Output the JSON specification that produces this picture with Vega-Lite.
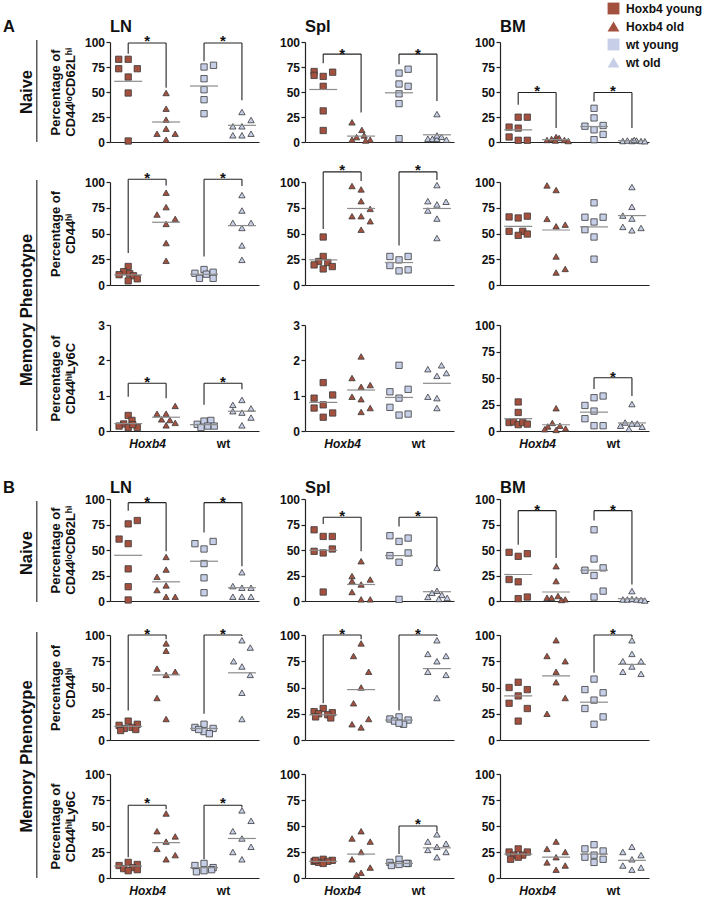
{
"$schema":"https://vega.github.io/schema/vega-lite/v6.json",
"padding":{"left":3,"top":2,"right":2,"bottom":2},
"spacing":30,
"datasets":{"d":[
{"k":"A1LN","m":"p","g":"Hoxb4 young","x":0.75,"y":82.7},{"k":"A1LN","m":"p","g":"Hoxb4 young","x":1,"y":82.7},{"k":"A1LN","m":"p","g":"Hoxb4 young","x":0.75,"y":73.3},{"k":"A1LN","m":"p","g":"Hoxb4 young","x":1.24,"y":73.3},{"k":"A1LN","m":"p","g":"Hoxb4 young","x":1,"y":65},{"k":"A1LN","m":"p","g":"Hoxb4 young","x":1,"y":49},{"k":"A1LN","m":"p","g":"Hoxb4 young","x":1,"y":1},
{"k":"A1LN","m":"p","g":"Hoxb4 old","x":2,"y":49},{"k":"A1LN","m":"p","g":"Hoxb4 old","x":2,"y":33.3},{"k":"A1LN","m":"p","g":"Hoxb4 old","x":2,"y":22.3},{"k":"A1LN","m":"p","g":"Hoxb4 old","x":1.76,"y":8.3},{"k":"A1LN","m":"p","g":"Hoxb4 old","x":2,"y":13.3},{"k":"A1LN","m":"p","g":"Hoxb4 old","x":2.24,"y":8.3},{"k":"A1LN","m":"p","g":"Hoxb4 old","x":2,"y":2.3},
{"k":"A1LN","m":"p","g":"wt young","x":3,"y":75},{"k":"A1LN","m":"p","g":"wt young","x":3.25,"y":76.7},{"k":"A1LN","m":"p","g":"wt young","x":3,"y":63.3},{"k":"A1LN","m":"p","g":"wt young","x":3,"y":52.3},{"k":"A1LN","m":"p","g":"wt young","x":3,"y":42.3},{"k":"A1LN","m":"p","g":"wt young","x":3,"y":28.3},
{"k":"A1LN","m":"p","g":"wt old","x":4,"y":30},{"k":"A1LN","m":"p","g":"wt old","x":3.76,"y":15.7},{"k":"A1LN","m":"p","g":"wt old","x":4,"y":15.7},{"k":"A1LN","m":"p","g":"wt old","x":4.24,"y":22},{"k":"A1LN","m":"p","g":"wt old","x":3.76,"y":6.7},{"k":"A1LN","m":"p","g":"wt old","x":4,"y":6.7},{"k":"A1LN","m":"p","g":"wt old","x":4.24,"y":8.3},
{"k":"A1LN","m":"l","x":1,"y":60.7},{"k":"A1LN","m":"l","x":2,"y":20},{"k":"A1LN","m":"l","x":3,"y":56},{"k":"A1LN","m":"l","x":4,"y":16.7},
{"k":"A1LN","m":"s","x":1,"x2":2,"y":99,"y2":99},{"k":"A1LN","m":"s","x":1,"x2":1,"y":88.3,"y2":99},{"k":"A1LN","m":"s","x":2,"x2":2,"y":54.3,"y2":99},{"k":"A1LN","m":"s","x":3,"x2":4,"y":99,"y2":99},{"k":"A1LN","m":"s","x":3,"x2":3,"y":80.7,"y2":99},{"k":"A1LN","m":"s","x":4,"x2":4,"y":41.7,"y2":99},
{"k":"A1LN","m":"t","x":1.5,"y":105},{"k":"A1LN","m":"t","x":3.5,"y":105},
{"k":"A1LN","m":"pl","x":-2.3,"y":110,"t":"A"},{"k":"A1LN","m":"pl","x":0.52,"y":110,"t":"LN"},
{"k":"A1LN","m":"lt","x":-1.67,"y":50,"t":"Naive"},{"k":"A1LN","m":"s","x":-1.41,"x2":-1.41,"y":0,"y2":102},

{"k":"A1Spl","m":"p","g":"Hoxb4 young","x":0.76,"y":70.5},{"k":"A1Spl","m":"p","g":"Hoxb4 young","x":0.76,"y":66.6},{"k":"A1Spl","m":"p","g":"Hoxb4 young","x":1,"y":65.6},{"k":"A1Spl","m":"p","g":"Hoxb4 young","x":1.25,"y":69.8},{"k":"A1Spl","m":"p","g":"Hoxb4 young","x":1,"y":55.7},{"k":"A1Spl","m":"p","g":"Hoxb4 young","x":1,"y":31.1},{"k":"A1Spl","m":"p","g":"Hoxb4 young","x":1,"y":11.5},
{"k":"A1Spl","m":"p","g":"Hoxb4 old","x":1.76,"y":19.7},{"k":"A1Spl","m":"p","g":"Hoxb4 old","x":2.02,"y":12.1},{"k":"A1Spl","m":"p","g":"Hoxb4 old","x":1.88,"y":4.9},{"k":"A1Spl","m":"p","g":"Hoxb4 old","x":2.08,"y":6.6},{"k":"A1Spl","m":"p","g":"Hoxb4 old","x":2.24,"y":2.3},{"k":"A1Spl","m":"p","g":"Hoxb4 old","x":1.76,"y":2.3},{"k":"A1Spl","m":"p","g":"Hoxb4 old","x":2.12,"y":1.5},
{"k":"A1Spl","m":"p","g":"wt young","x":3,"y":68.9},{"k":"A1Spl","m":"p","g":"wt young","x":3.24,"y":72.8},{"k":"A1Spl","m":"p","g":"wt young","x":3,"y":58},{"k":"A1Spl","m":"p","g":"wt young","x":3.24,"y":55.7},{"k":"A1Spl","m":"p","g":"wt young","x":3,"y":48.2},{"k":"A1Spl","m":"p","g":"wt young","x":3,"y":38.4},{"k":"A1Spl","m":"p","g":"wt young","x":3,"y":3.3},
{"k":"A1Spl","m":"p","g":"wt old","x":4,"y":27.9},{"k":"A1Spl","m":"p","g":"wt old","x":3.76,"y":3.3},{"k":"A1Spl","m":"p","g":"wt old","x":3.88,"y":3.3},{"k":"A1Spl","m":"p","g":"wt old","x":4,"y":3.3},{"k":"A1Spl","m":"p","g":"wt old","x":4,"y":6.6},{"k":"A1Spl","m":"p","g":"wt old","x":4.12,"y":5.2},{"k":"A1Spl","m":"p","g":"wt old","x":4.25,"y":2.3},
{"k":"A1Spl","m":"l","x":1,"y":52.5},{"k":"A1Spl","m":"l","x":2,"y":5.9},{"k":"A1Spl","m":"l","x":3,"y":49.2},{"k":"A1Spl","m":"l","x":4,"y":7.2},
{"k":"A1Spl","m":"s","x":1,"x2":2,"y":87.9,"y2":87.9},{"k":"A1Spl","m":"s","x":1,"x2":1,"y":78.7,"y2":87.9},{"k":"A1Spl","m":"s","x":2,"x2":2,"y":29.5,"y2":87.9},{"k":"A1Spl","m":"s","x":3,"x2":4,"y":87.9,"y2":87.9},{"k":"A1Spl","m":"s","x":3,"x2":3,"y":77.7,"y2":87.9},{"k":"A1Spl","m":"s","x":4,"x2":4,"y":41,"y2":87.9},
{"k":"A1Spl","m":"t","x":1.5,"y":92.5},{"k":"A1Spl","m":"t","x":3.5,"y":92.5},
{"k":"A1Spl","m":"pl","x":0.52,"y":110,"t":"Spl"},

{"k":"A1BM","m":"p","g":"Hoxb4 young","x":0.76,"y":14.9},{"k":"A1BM","m":"p","g":"Hoxb4 young","x":1,"y":13.9},{"k":"A1BM","m":"p","g":"Hoxb4 young","x":1,"y":24.8},{"k":"A1BM","m":"p","g":"Hoxb4 young","x":1.24,"y":24.8},{"k":"A1BM","m":"p","g":"Hoxb4 young","x":0.76,"y":5},{"k":"A1BM","m":"p","g":"Hoxb4 young","x":1,"y":1.7},{"k":"A1BM","m":"p","g":"Hoxb4 young","x":1.24,"y":1.7},
{"k":"A1BM","m":"p","g":"Hoxb4 old","x":1.76,"y":2},{"k":"A1BM","m":"p","g":"Hoxb4 old","x":1.88,"y":3},{"k":"A1BM","m":"p","g":"Hoxb4 old","x":2,"y":5},{"k":"A1BM","m":"p","g":"Hoxb4 old","x":2.08,"y":4},{"k":"A1BM","m":"p","g":"Hoxb4 old","x":2.22,"y":2},{"k":"A1BM","m":"p","g":"Hoxb4 old","x":2.32,"y":1},{"k":"A1BM","m":"p","g":"Hoxb4 old","x":1.98,"y":1.5},
{"k":"A1BM","m":"p","g":"wt young","x":3,"y":33.7},{"k":"A1BM","m":"p","g":"wt young","x":3,"y":24.1},{"k":"A1BM","m":"p","g":"wt young","x":2.76,"y":15.8},{"k":"A1BM","m":"p","g":"wt young","x":3.24,"y":16.5},{"k":"A1BM","m":"p","g":"wt young","x":3,"y":12.2},{"k":"A1BM","m":"p","g":"wt young","x":3.24,"y":7.6},{"k":"A1BM","m":"p","g":"wt young","x":3,"y":2.3},
{"k":"A1BM","m":"p","g":"wt old","x":3.76,"y":1},{"k":"A1BM","m":"p","g":"wt old","x":3.88,"y":1.5},{"k":"A1BM","m":"p","g":"wt old","x":4,"y":1},{"k":"A1BM","m":"p","g":"wt old","x":4.12,"y":1.5},{"k":"A1BM","m":"p","g":"wt old","x":4.24,"y":1},{"k":"A1BM","m":"p","g":"wt old","x":4.34,"y":0.8},{"k":"A1BM","m":"p","g":"wt old","x":4.06,"y":2},
{"k":"A1BM","m":"l","x":1,"y":12.2},{"k":"A1BM","m":"l","x":2,"y":2.3},{"k":"A1BM","m":"l","x":3,"y":15.5},{"k":"A1BM","m":"l","x":4,"y":1.3},
{"k":"A1BM","m":"s","x":1,"x2":2,"y":49.5,"y2":49.5},{"k":"A1BM","m":"s","x":1,"x2":1,"y":37.3,"y2":49.5},{"k":"A1BM","m":"s","x":2,"x2":2,"y":13.9,"y2":49.5},{"k":"A1BM","m":"s","x":3,"x2":4,"y":49.5,"y2":49.5},{"k":"A1BM","m":"s","x":3,"x2":3,"y":40.6,"y2":49.5},{"k":"A1BM","m":"s","x":4,"x2":4,"y":13.9,"y2":49.5},
{"k":"A1BM","m":"t","x":1.5,"y":55},{"k":"A1BM","m":"t","x":3.5,"y":55},
{"k":"A1BM","m":"pl","x":0.52,"y":110,"t":"BM"},

{"k":"A2LN","m":"p","g":"Hoxb4 young","x":1,"y":18},{"k":"A2LN","m":"p","g":"Hoxb4 young","x":0.88,"y":13},{"k":"A2LN","m":"p","g":"Hoxb4 young","x":0.76,"y":10},{"k":"A2LN","m":"p","g":"Hoxb4 young","x":1.04,"y":11},{"k":"A2LN","m":"p","g":"Hoxb4 young","x":1.14,"y":9},{"k":"A2LN","m":"p","g":"Hoxb4 young","x":1,"y":4},{"k":"A2LN","m":"p","g":"Hoxb4 young","x":1.24,"y":6},
{"k":"A2LN","m":"p","g":"Hoxb4 old","x":2,"y":89.6},{"k":"A2LN","m":"p","g":"Hoxb4 old","x":2,"y":75.6},{"k":"A2LN","m":"p","g":"Hoxb4 old","x":1.76,"y":68.4},{"k":"A2LN","m":"p","g":"Hoxb4 old","x":2.24,"y":64.2},{"k":"A2LN","m":"p","g":"Hoxb4 old","x":2,"y":59.3},{"k":"A2LN","m":"p","g":"Hoxb4 old","x":2,"y":40.7},{"k":"A2LN","m":"p","g":"Hoxb4 old","x":2,"y":23.5},
{"k":"A2LN","m":"p","g":"wt young","x":2.76,"y":11.4},{"k":"A2LN","m":"p","g":"wt young","x":3,"y":15},{"k":"A2LN","m":"p","g":"wt young","x":3.24,"y":12.4},{"k":"A2LN","m":"p","g":"wt young","x":2.88,"y":6.5},{"k":"A2LN","m":"p","g":"wt young","x":3.24,"y":6.5},{"k":"A2LN","m":"p","g":"wt young","x":3.06,"y":10.5},
{"k":"A2LN","m":"p","g":"wt old","x":4,"y":87.3},{"k":"A2LN","m":"p","g":"wt old","x":4,"y":72.3},{"k":"A2LN","m":"p","g":"wt old","x":3.76,"y":60.3},{"k":"A2LN","m":"p","g":"wt old","x":4.24,"y":60.3},{"k":"A2LN","m":"p","g":"wt old","x":4,"y":55.4},{"k":"A2LN","m":"p","g":"wt old","x":4,"y":38.4},{"k":"A2LN","m":"p","g":"wt old","x":4,"y":24.4},
{"k":"A2LN","m":"l","x":1,"y":9.8},{"k":"A2LN","m":"l","x":2,"y":60.9},{"k":"A2LN","m":"l","x":3,"y":10.4},{"k":"A2LN","m":"l","x":4,"y":57.7},
{"k":"A2LN","m":"s","x":1,"x2":2,"y":102.6,"y2":102.6},{"k":"A2LN","m":"s","x":1,"x2":1,"y":31,"y2":102.6},{"k":"A2LN","m":"s","x":2,"x2":2,"y":96.7,"y2":102.6},{"k":"A2LN","m":"s","x":3,"x2":4,"y":102.6,"y2":102.6},{"k":"A2LN","m":"s","x":3,"x2":3,"y":27.7,"y2":102.6},{"k":"A2LN","m":"s","x":4,"x2":4,"y":96,"y2":102.6},
{"k":"A2LN","m":"t","x":1.5,"y":107.5},{"k":"A2LN","m":"t","x":3.5,"y":107.5},
{"k":"A2LN","m":"lt","x":-1.67,"y":-24.3,"t":"Memory Phenotype"},{"k":"A2LN","m":"s","x":-1.41,"x2":-1.41,"y":-141.7,"y2":101.9},

{"k":"A2Spl","m":"p","g":"Hoxb4 young","x":1,"y":46.6},{"k":"A2Spl","m":"p","g":"Hoxb4 young","x":1,"y":27.7},{"k":"A2Spl","m":"p","g":"Hoxb4 young","x":0.88,"y":22.8},{"k":"A2Spl","m":"p","g":"Hoxb4 young","x":0.76,"y":19.5},{"k":"A2Spl","m":"p","g":"Hoxb4 young","x":1.12,"y":21.8},{"k":"A2Spl","m":"p","g":"Hoxb4 young","x":1.24,"y":17.9},{"k":"A2Spl","m":"p","g":"Hoxb4 young","x":1,"y":15.6},
{"k":"A2Spl","m":"p","g":"Hoxb4 old","x":1.76,"y":96.1},{"k":"A2Spl","m":"p","g":"Hoxb4 old","x":2,"y":92.8},{"k":"A2Spl","m":"p","g":"Hoxb4 old","x":2,"y":81.4},{"k":"A2Spl","m":"p","g":"Hoxb4 old","x":2.24,"y":73.9},{"k":"A2Spl","m":"p","g":"Hoxb4 old","x":1.76,"y":66.8},{"k":"A2Spl","m":"p","g":"Hoxb4 old","x":2,"y":66.8},{"k":"A2Spl","m":"p","g":"Hoxb4 old","x":2.24,"y":61.9},{"k":"A2Spl","m":"p","g":"Hoxb4 old","x":2,"y":53.7},
{"k":"A2Spl","m":"p","g":"wt young","x":2.76,"y":27.7},{"k":"A2Spl","m":"p","g":"wt young","x":3,"y":24.4},{"k":"A2Spl","m":"p","g":"wt young","x":3.24,"y":27.7},{"k":"A2Spl","m":"p","g":"wt young","x":2.76,"y":18.9},{"k":"A2Spl","m":"p","g":"wt young","x":3,"y":13.7},{"k":"A2Spl","m":"p","g":"wt young","x":3.24,"y":14.7},
{"k":"A2Spl","m":"p","g":"wt old","x":4,"y":97},{"k":"A2Spl","m":"p","g":"wt old","x":3.76,"y":81.4},{"k":"A2Spl","m":"p","g":"wt old","x":4,"y":78.2},{"k":"A2Spl","m":"p","g":"wt old","x":4.24,"y":80.8},{"k":"A2Spl","m":"p","g":"wt old","x":3.76,"y":72.3},{"k":"A2Spl","m":"p","g":"wt old","x":4,"y":64.5},{"k":"A2Spl","m":"p","g":"wt old","x":4,"y":45.6},
{"k":"A2Spl","m":"l","x":1,"y":24.4},{"k":"A2Spl","m":"l","x":2,"y":74.3},{"k":"A2Spl","m":"l","x":3,"y":21.8},{"k":"A2Spl","m":"l","x":4,"y":74.3},
{"k":"A2Spl","m":"s","x":1,"x2":2,"y":109.8,"y2":109.8},{"k":"A2Spl","m":"s","x":1,"x2":1,"y":54.4,"y2":109.8},{"k":"A2Spl","m":"s","x":2,"x2":2,"y":101,"y2":109.8},{"k":"A2Spl","m":"s","x":3,"x2":4,"y":109.8,"y2":109.8},{"k":"A2Spl","m":"s","x":3,"x2":3,"y":38.4,"y2":109.8},{"k":"A2Spl","m":"s","x":4,"x2":4,"y":102,"y2":109.8},
{"k":"A2Spl","m":"t","x":1.5,"y":115.6},{"k":"A2Spl","m":"t","x":3.5,"y":115.6},

{"k":"A2BM","m":"p","g":"Hoxb4 young","x":0.76,"y":66.1},{"k":"A2BM","m":"p","g":"Hoxb4 young","x":1,"y":65.1},{"k":"A2BM","m":"p","g":"Hoxb4 young","x":1.24,"y":66.8},{"k":"A2BM","m":"p","g":"Hoxb4 young","x":0.76,"y":52.1},{"k":"A2BM","m":"p","g":"Hoxb4 young","x":1.12,"y":52.1},{"k":"A2BM","m":"p","g":"Hoxb4 young","x":1,"y":48.2},{"k":"A2BM","m":"p","g":"Hoxb4 young","x":1.24,"y":49.5},
{"k":"A2BM","m":"p","g":"Hoxb4 old","x":1.76,"y":96.7},{"k":"A2BM","m":"p","g":"Hoxb4 old","x":2,"y":92.2},{"k":"A2BM","m":"p","g":"Hoxb4 old","x":1.76,"y":64.2},{"k":"A2BM","m":"p","g":"Hoxb4 old","x":2,"y":57},{"k":"A2BM","m":"p","g":"Hoxb4 old","x":2.24,"y":58.6},{"k":"A2BM","m":"p","g":"Hoxb4 old","x":2,"y":27.7},{"k":"A2BM","m":"p","g":"Hoxb4 old","x":2,"y":12.1},{"k":"A2BM","m":"p","g":"Hoxb4 old","x":2.24,"y":15.6},
{"k":"A2BM","m":"p","g":"wt young","x":3,"y":79.8},{"k":"A2BM","m":"p","g":"wt young","x":2.76,"y":65.8},{"k":"A2BM","m":"p","g":"wt young","x":3.24,"y":65.8},{"k":"A2BM","m":"p","g":"wt young","x":3,"y":61.2},{"k":"A2BM","m":"p","g":"wt young","x":2.76,"y":53.7},{"k":"A2BM","m":"p","g":"wt young","x":3,"y":46.6},{"k":"A2BM","m":"p","g":"wt young","x":3,"y":25.1},
{"k":"A2BM","m":"p","g":"wt old","x":4,"y":95.1},{"k":"A2BM","m":"p","g":"wt old","x":4,"y":75.9},{"k":"A2BM","m":"p","g":"wt old","x":3.76,"y":67.4},{"k":"A2BM","m":"p","g":"wt old","x":4,"y":64.5},{"k":"A2BM","m":"p","g":"wt old","x":3.76,"y":56.4},{"k":"A2BM","m":"p","g":"wt old","x":4.24,"y":55.4},{"k":"A2BM","m":"p","g":"wt old","x":4,"y":53.1},
{"k":"A2BM","m":"l","x":1,"y":57},{"k":"A2BM","m":"l","x":2,"y":53.4},{"k":"A2BM","m":"l","x":3,"y":56.4},{"k":"A2BM","m":"l","x":4,"y":67.4},

{"k":"A3LN","m":"p","g":"Hoxb4 young","x":1,"y":0.44},{"k":"A3LN","m":"p","g":"Hoxb4 young","x":1.1,"y":0.3},{"k":"A3LN","m":"p","g":"Hoxb4 young","x":0.88,"y":0.2},{"k":"A3LN","m":"p","g":"Hoxb4 young","x":0.76,"y":0.14},{"k":"A3LN","m":"p","g":"Hoxb4 young","x":1,"y":0.1},{"k":"A3LN","m":"p","g":"Hoxb4 young","x":1.24,"y":0.1},{"k":"A3LN","m":"p","g":"Hoxb4 young","x":1.12,"y":0.18},
{"k":"A3LN","m":"p","g":"Hoxb4 old","x":2.24,"y":0.71},{"k":"A3LN","m":"p","g":"Hoxb4 old","x":1.76,"y":0.49},{"k":"A3LN","m":"p","g":"Hoxb4 old","x":2,"y":0.49},{"k":"A3LN","m":"p","g":"Hoxb4 old","x":1.88,"y":0.33},{"k":"A3LN","m":"p","g":"Hoxb4 old","x":2.1,"y":0.31},{"k":"A3LN","m":"p","g":"Hoxb4 old","x":2,"y":0.16},{"k":"A3LN","m":"p","g":"Hoxb4 old","x":2.24,"y":0.23},
{"k":"A3LN","m":"p","g":"wt young","x":3,"y":0.28},{"k":"A3LN","m":"p","g":"wt young","x":3.18,"y":0.3},{"k":"A3LN","m":"p","g":"wt young","x":2.82,"y":0.19},{"k":"A3LN","m":"p","g":"wt young","x":3.1,"y":0.14},{"k":"A3LN","m":"p","g":"wt young","x":3.27,"y":0.14},{"k":"A3LN","m":"p","g":"wt young","x":2.92,"y":0.1},
{"k":"A3LN","m":"p","g":"wt old","x":4,"y":0.88},{"k":"A3LN","m":"p","g":"wt old","x":3.76,"y":0.74},{"k":"A3LN","m":"p","g":"wt old","x":3.76,"y":0.56},{"k":"A3LN","m":"p","g":"wt old","x":4,"y":0.52},{"k":"A3LN","m":"p","g":"wt old","x":4.24,"y":0.64},{"k":"A3LN","m":"p","g":"wt old","x":4.24,"y":0.38},{"k":"A3LN","m":"p","g":"wt old","x":4,"y":0.16},
{"k":"A3LN","m":"l","x":1,"y":0.21},{"k":"A3LN","m":"l","x":2,"y":0.39},{"k":"A3LN","m":"l","x":3,"y":0.18},{"k":"A3LN","m":"l","x":4,"y":0.56},
{"k":"A3LN","m":"s","x":1,"x2":2,"y":1.35,"y2":1.35},{"k":"A3LN","m":"s","x":1,"x2":1,"y":0.97,"y2":1.35},{"k":"A3LN","m":"s","x":2,"x2":2,"y":0.93,"y2":1.35},{"k":"A3LN","m":"s","x":3,"x2":4,"y":1.35,"y2":1.35},{"k":"A3LN","m":"s","x":3,"x2":3,"y":0.74,"y2":1.35},{"k":"A3LN","m":"s","x":4,"x2":4,"y":1.18,"y2":1.35},
{"k":"A3LN","m":"t","x":1.5,"y":1.49},{"k":"A3LN","m":"t","x":3.5,"y":1.49},

{"k":"A3Spl","m":"p","g":"Hoxb4 young","x":1,"y":1.37},{"k":"A3Spl","m":"p","g":"Hoxb4 young","x":0.76,"y":0.93},{"k":"A3Spl","m":"p","g":"Hoxb4 young","x":1.25,"y":1.02},{"k":"A3Spl","m":"p","g":"Hoxb4 young","x":0.76,"y":0.65},{"k":"A3Spl","m":"p","g":"Hoxb4 young","x":1,"y":0.74},{"k":"A3Spl","m":"p","g":"Hoxb4 young","x":1.25,"y":0.51},{"k":"A3Spl","m":"p","g":"Hoxb4 young","x":1,"y":0.39},
{"k":"A3Spl","m":"p","g":"Hoxb4 old","x":2,"y":2.11},{"k":"A3Spl","m":"p","g":"Hoxb4 old","x":1.76,"y":1.5},{"k":"A3Spl","m":"p","g":"Hoxb4 old","x":2,"y":1.25},{"k":"A3Spl","m":"p","g":"Hoxb4 old","x":2.24,"y":1.3},{"k":"A3Spl","m":"p","g":"Hoxb4 old","x":1.76,"y":0.97},{"k":"A3Spl","m":"p","g":"Hoxb4 old","x":2,"y":0.9},{"k":"A3Spl","m":"p","g":"Hoxb4 old","x":2,"y":0.54},{"k":"A3Spl","m":"p","g":"Hoxb4 old","x":2.24,"y":0.65},
{"k":"A3Spl","m":"p","g":"wt young","x":3,"y":1.86},{"k":"A3Spl","m":"p","g":"wt young","x":2.76,"y":1.11},{"k":"A3Spl","m":"p","g":"wt young","x":3.24,"y":1.18},{"k":"A3Spl","m":"p","g":"wt young","x":3,"y":0.93},{"k":"A3Spl","m":"p","g":"wt young","x":2.76,"y":0.67},{"k":"A3Spl","m":"p","g":"wt young","x":3,"y":0.45},{"k":"A3Spl","m":"p","g":"wt young","x":3.24,"y":0.48},
{"k":"A3Spl","m":"p","g":"wt old","x":4.12,"y":1.86},{"k":"A3Spl","m":"p","g":"wt old","x":3.76,"y":1.75},{"k":"A3Spl","m":"p","g":"wt old","x":4,"y":1.56},{"k":"A3Spl","m":"p","g":"wt old","x":4.25,"y":1.64},{"k":"A3Spl","m":"p","g":"wt old","x":3.76,"y":0.97},{"k":"A3Spl","m":"p","g":"wt old","x":4,"y":0.93},{"k":"A3Spl","m":"p","g":"wt old","x":4,"y":0.65},
{"k":"A3Spl","m":"l","x":1,"y":0.81},{"k":"A3Spl","m":"l","x":2,"y":1.16},{"k":"A3Spl","m":"l","x":3,"y":0.95},{"k":"A3Spl","m":"l","x":4,"y":1.35},

{"k":"A3BM","m":"p","g":"Hoxb4 young","x":1,"y":27.4},{"k":"A3BM","m":"p","g":"Hoxb4 young","x":1,"y":17.5},{"k":"A3BM","m":"p","g":"Hoxb4 young","x":0.76,"y":8},{"k":"A3BM","m":"p","g":"Hoxb4 young","x":0.88,"y":8.5},{"k":"A3BM","m":"p","g":"Hoxb4 young","x":1,"y":6},{"k":"A3BM","m":"p","g":"Hoxb4 young","x":1.12,"y":8},{"k":"A3BM","m":"p","g":"Hoxb4 young","x":1.24,"y":6.5},
{"k":"A3BM","m":"p","g":"Hoxb4 old","x":2,"y":21.5},{"k":"A3BM","m":"p","g":"Hoxb4 old","x":1.9,"y":7.6},{"k":"A3BM","m":"p","g":"Hoxb4 old","x":2.1,"y":5},{"k":"A3BM","m":"p","g":"Hoxb4 old","x":1.78,"y":4.3},{"k":"A3BM","m":"p","g":"Hoxb4 old","x":1.7,"y":1.7},{"k":"A3BM","m":"p","g":"Hoxb4 old","x":2.25,"y":2.3},{"k":"A3BM","m":"p","g":"Hoxb4 old","x":2,"y":1},
{"k":"A3BM","m":"p","g":"wt young","x":3.24,"y":33},{"k":"A3BM","m":"p","g":"wt young","x":3,"y":31.4},{"k":"A3BM","m":"p","g":"wt young","x":2.76,"y":24.1},{"k":"A3BM","m":"p","g":"wt young","x":3,"y":18.8},{"k":"A3BM","m":"p","g":"wt young","x":2.76,"y":11.6},{"k":"A3BM","m":"p","g":"wt young","x":3,"y":5},{"k":"A3BM","m":"p","g":"wt young","x":3.24,"y":5},
{"k":"A3BM","m":"p","g":"wt old","x":4,"y":25.4},{"k":"A3BM","m":"p","g":"wt old","x":3.82,"y":8},{"k":"A3BM","m":"p","g":"wt old","x":4,"y":7},{"k":"A3BM","m":"p","g":"wt old","x":4.14,"y":7},{"k":"A3BM","m":"p","g":"wt old","x":3.7,"y":5},{"k":"A3BM","m":"p","g":"wt old","x":4.27,"y":4},{"k":"A3BM","m":"p","g":"wt old","x":3.92,"y":2},
{"k":"A3BM","m":"l","x":1,"y":11.6},{"k":"A3BM","m":"l","x":2,"y":5.9},{"k":"A3BM","m":"l","x":3,"y":17.8},{"k":"A3BM","m":"l","x":4,"y":7.6},
{"k":"A3BM","m":"s","x":3,"x2":4,"y":50.2,"y2":50.2},{"k":"A3BM","m":"s","x":3,"x2":3,"y":39.6,"y2":50.2},{"k":"A3BM","m":"s","x":4,"x2":4,"y":33,"y2":50.2},
{"k":"A3BM","m":"t","x":3.5,"y":55},

{"k":"B1LN","m":"p","g":"Hoxb4 young","x":1,"y":75.6},{"k":"B1LN","m":"p","g":"Hoxb4 young","x":1.24,"y":78.9},{"k":"B1LN","m":"p","g":"Hoxb4 young","x":0.76,"y":60.7},{"k":"B1LN","m":"p","g":"Hoxb4 young","x":1,"y":56.2},{"k":"B1LN","m":"p","g":"Hoxb4 young","x":1,"y":31.5},{"k":"B1LN","m":"p","g":"Hoxb4 young","x":1,"y":14},{"k":"B1LN","m":"p","g":"Hoxb4 young","x":1,"y":1},
{"k":"B1LN","m":"p","g":"Hoxb4 old","x":2,"y":43.2},{"k":"B1LN","m":"p","g":"Hoxb4 old","x":2,"y":30.8},{"k":"B1LN","m":"p","g":"Hoxb4 old","x":1.76,"y":23.7},{"k":"B1LN","m":"p","g":"Hoxb4 old","x":2,"y":15.3},{"k":"B1LN","m":"p","g":"Hoxb4 old","x":1.76,"y":10.7},{"k":"B1LN","m":"p","g":"Hoxb4 old","x":2,"y":4.2},{"k":"B1LN","m":"p","g":"Hoxb4 old","x":2.24,"y":4.2},
{"k":"B1LN","m":"p","g":"wt young","x":2.76,"y":56.2},{"k":"B1LN","m":"p","g":"wt young","x":3,"y":51},{"k":"B1LN","m":"p","g":"wt young","x":3.24,"y":58.4},{"k":"B1LN","m":"p","g":"wt young","x":3,"y":36.7},{"k":"B1LN","m":"p","g":"wt young","x":3,"y":22.7},{"k":"B1LN","m":"p","g":"wt young","x":3,"y":8.1},
{"k":"B1LN","m":"p","g":"wt old","x":4,"y":28.2},{"k":"B1LN","m":"p","g":"wt old","x":3.76,"y":14.6},{"k":"B1LN","m":"p","g":"wt old","x":4,"y":13},{"k":"B1LN","m":"p","g":"wt old","x":4.24,"y":13},{"k":"B1LN","m":"p","g":"wt old","x":3.76,"y":4.2},{"k":"B1LN","m":"p","g":"wt old","x":4,"y":4.2},{"k":"B1LN","m":"p","g":"wt old","x":4.24,"y":4.2},
{"k":"B1LN","m":"l","x":1,"y":44.8},{"k":"B1LN","m":"l","x":2,"y":18.8},{"k":"B1LN","m":"l","x":3,"y":39},{"k":"B1LN","m":"l","x":4,"y":13},
{"k":"B1LN","m":"s","x":1,"x2":2,"y":96.4,"y2":96.4},{"k":"B1LN","m":"s","x":1,"x2":1,"y":88.6,"y2":96.4},{"k":"B1LN","m":"s","x":2,"x2":2,"y":48.7,"y2":96.4},{"k":"B1LN","m":"s","x":3,"x2":4,"y":96.4,"y2":96.4},{"k":"B1LN","m":"s","x":3,"x2":3,"y":67.2,"y2":96.4},{"k":"B1LN","m":"s","x":4,"x2":4,"y":34,"y2":96.4},
{"k":"B1LN","m":"t","x":1.5,"y":100.6},{"k":"B1LN","m":"t","x":3.5,"y":100.6},
{"k":"B1LN","m":"pl","x":-2.3,"y":106.3,"t":"B"},{"k":"B1LN","m":"pl","x":0.52,"y":106.3,"t":"LN"},
{"k":"B1LN","m":"lt","x":-1.67,"y":47,"t":"Naive"},{"k":"B1LN","m":"s","x":-1.41,"x2":-1.41,"y":-1,"y2":98},

{"k":"B1Spl","m":"p","g":"Hoxb4 young","x":0.76,"y":69.8},{"k":"B1Spl","m":"p","g":"Hoxb4 young","x":1,"y":63.3},{"k":"B1Spl","m":"p","g":"Hoxb4 young","x":1.24,"y":63.3},{"k":"B1Spl","m":"p","g":"Hoxb4 young","x":0.76,"y":48.7},{"k":"B1Spl","m":"p","g":"Hoxb4 young","x":1,"y":47.1},{"k":"B1Spl","m":"p","g":"Hoxb4 young","x":1.24,"y":51},{"k":"B1Spl","m":"p","g":"Hoxb4 young","x":1,"y":8.8},
{"k":"B1Spl","m":"p","g":"Hoxb4 old","x":2,"y":39},{"k":"B1Spl","m":"p","g":"Hoxb4 old","x":1.76,"y":24.4},{"k":"B1Spl","m":"p","g":"Hoxb4 old","x":1.76,"y":19.5},{"k":"B1Spl","m":"p","g":"Hoxb4 old","x":2,"y":16.2},{"k":"B1Spl","m":"p","g":"Hoxb4 old","x":2.24,"y":21.1},{"k":"B1Spl","m":"p","g":"Hoxb4 old","x":1.76,"y":8.8},{"k":"B1Spl","m":"p","g":"Hoxb4 old","x":2,"y":1.6},{"k":"B1Spl","m":"p","g":"Hoxb4 old","x":2.24,"y":1.6},
{"k":"B1Spl","m":"p","g":"wt young","x":2.76,"y":64},{"k":"B1Spl","m":"p","g":"wt young","x":3,"y":58.4},{"k":"B1Spl","m":"p","g":"wt young","x":3.24,"y":61.7},{"k":"B1Spl","m":"p","g":"wt young","x":2.76,"y":44.5},{"k":"B1Spl","m":"p","g":"wt young","x":3.24,"y":47.1},{"k":"B1Spl","m":"p","g":"wt young","x":3,"y":38},{"k":"B1Spl","m":"p","g":"wt young","x":3,"y":1.6},
{"k":"B1Spl","m":"p","g":"wt old","x":4,"y":32.5},{"k":"B1Spl","m":"p","g":"wt old","x":4,"y":10},{"k":"B1Spl","m":"p","g":"wt old","x":3.87,"y":8},{"k":"B1Spl","m":"p","g":"wt old","x":4.13,"y":6},{"k":"B1Spl","m":"p","g":"wt old","x":3.76,"y":4},{"k":"B1Spl","m":"p","g":"wt old","x":4.27,"y":3},{"k":"B1Spl","m":"p","g":"wt old","x":4.05,"y":2},
{"k":"B1Spl","m":"l","x":1,"y":49.7},{"k":"B1Spl","m":"l","x":2,"y":16.2},{"k":"B1Spl","m":"l","x":3,"y":44.5},{"k":"B1Spl","m":"l","x":4,"y":9.1},
{"k":"B1Spl","m":"s","x":1,"x2":2,"y":82.1,"y2":82.1},{"k":"B1Spl","m":"s","x":1,"x2":1,"y":75.6,"y2":82.1},{"k":"B1Spl","m":"s","x":2,"x2":2,"y":48.7,"y2":82.1},{"k":"B1Spl","m":"s","x":3,"x2":4,"y":82.1,"y2":82.1},{"k":"B1Spl","m":"s","x":3,"x2":3,"y":73,"y2":82.1},{"k":"B1Spl","m":"s","x":4,"x2":4,"y":34,"y2":82.1},
{"k":"B1Spl","m":"t","x":1.5,"y":87},{"k":"B1Spl","m":"t","x":3.5,"y":87},
{"k":"B1Spl","m":"pl","x":0.52,"y":106.3,"t":"Spl"},

{"k":"B1BM","m":"p","g":"Hoxb4 young","x":0.76,"y":47.7},{"k":"B1BM","m":"p","g":"Hoxb4 young","x":1,"y":43.8},{"k":"B1BM","m":"p","g":"Hoxb4 young","x":1.24,"y":46.4},{"k":"B1BM","m":"p","g":"Hoxb4 young","x":0.76,"y":21.1},{"k":"B1BM","m":"p","g":"Hoxb4 young","x":1,"y":18.8},{"k":"B1BM","m":"p","g":"Hoxb4 young","x":1,"y":2.3},{"k":"B1BM","m":"p","g":"Hoxb4 young","x":1.24,"y":3.9},
{"k":"B1BM","m":"p","g":"Hoxb4 old","x":2,"y":34.1},{"k":"B1BM","m":"p","g":"Hoxb4 old","x":2,"y":19.5},{"k":"B1BM","m":"p","g":"Hoxb4 old","x":1.76,"y":3.2},{"k":"B1BM","m":"p","g":"Hoxb4 old","x":1.88,"y":3.2},{"k":"B1BM","m":"p","g":"Hoxb4 old","x":2.05,"y":4.9},{"k":"B1BM","m":"p","g":"Hoxb4 old","x":2.24,"y":1.6},{"k":"B1BM","m":"p","g":"Hoxb4 old","x":2.14,"y":1},
{"k":"B1BM","m":"p","g":"wt young","x":3,"y":69.8},{"k":"B1BM","m":"p","g":"wt young","x":3,"y":41.2},{"k":"B1BM","m":"p","g":"wt young","x":2.76,"y":30.2},{"k":"B1BM","m":"p","g":"wt young","x":3.24,"y":32.5},{"k":"B1BM","m":"p","g":"wt young","x":3,"y":25},{"k":"B1BM","m":"p","g":"wt young","x":3.24,"y":9.7},{"k":"B1BM","m":"p","g":"wt young","x":3,"y":3.9},
{"k":"B1BM","m":"p","g":"wt old","x":4,"y":9.7},{"k":"B1BM","m":"p","g":"wt old","x":3.76,"y":1.5},{"k":"B1BM","m":"p","g":"wt old","x":3.88,"y":1.5},{"k":"B1BM","m":"p","g":"wt old","x":4,"y":2},{"k":"B1BM","m":"p","g":"wt old","x":4.12,"y":1.5},{"k":"B1BM","m":"p","g":"wt old","x":4.24,"y":1},{"k":"B1BM","m":"p","g":"wt old","x":4.34,"y":0.5},
{"k":"B1BM","m":"l","x":1,"y":26},{"k":"B1BM","m":"l","x":2,"y":8.8},{"k":"B1BM","m":"l","x":3,"y":30.2},{"k":"B1BM","m":"l","x":4,"y":2.3},
{"k":"B1BM","m":"s","x":1,"x2":2,"y":88.6,"y2":88.6},{"k":"B1BM","m":"s","x":1,"x2":1,"y":55.2,"y2":88.6},{"k":"B1BM","m":"s","x":2,"x2":2,"y":42.2,"y2":88.6},{"k":"B1BM","m":"s","x":3,"x2":4,"y":88.6,"y2":88.6},{"k":"B1BM","m":"s","x":3,"x2":3,"y":78.9,"y2":88.6},{"k":"B1BM","m":"s","x":4,"x2":4,"y":16.2,"y2":88.6},
{"k":"B1BM","m":"t","x":1.5,"y":93},{"k":"B1BM","m":"t","x":3.5,"y":93},
{"k":"B1BM","m":"pl","x":0.52,"y":106.3,"t":"BM"},

{"k":"B2LN","m":"p","g":"Hoxb4 young","x":1,"y":18},{"k":"B2LN","m":"p","g":"Hoxb4 young","x":0.76,"y":14},{"k":"B2LN","m":"p","g":"Hoxb4 young","x":1.24,"y":15},{"k":"B2LN","m":"p","g":"Hoxb4 young","x":0.9,"y":11},{"k":"B2LN","m":"p","g":"Hoxb4 young","x":1.1,"y":12},{"k":"B2LN","m":"p","g":"Hoxb4 young","x":0.8,"y":9},{"k":"B2LN","m":"p","g":"Hoxb4 young","x":1.2,"y":10},
{"k":"B2LN","m":"p","g":"Hoxb4 old","x":2,"y":92},{"k":"B2LN","m":"p","g":"Hoxb4 old","x":2,"y":85},{"k":"B2LN","m":"p","g":"Hoxb4 old","x":1.76,"y":68},{"k":"B2LN","m":"p","g":"Hoxb4 old","x":2.24,"y":65},{"k":"B2LN","m":"p","g":"Hoxb4 old","x":2,"y":62},{"k":"B2LN","m":"p","g":"Hoxb4 old","x":1.76,"y":40},{"k":"B2LN","m":"p","g":"Hoxb4 old","x":2,"y":20},
{"k":"B2LN","m":"p","g":"wt young","x":3,"y":15},{"k":"B2LN","m":"p","g":"wt young","x":2.76,"y":12},{"k":"B2LN","m":"p","g":"wt young","x":3.24,"y":11},{"k":"B2LN","m":"p","g":"wt young","x":3,"y":8},{"k":"B2LN","m":"p","g":"wt young","x":2.86,"y":10},{"k":"B2LN","m":"p","g":"wt young","x":3.14,"y":6},
{"k":"B2LN","m":"p","g":"wt old","x":4,"y":95},{"k":"B2LN","m":"p","g":"wt old","x":4.22,"y":88},{"k":"B2LN","m":"p","g":"wt old","x":3.78,"y":75},{"k":"B2LN","m":"p","g":"wt old","x":4,"y":70},{"k":"B2LN","m":"p","g":"wt old","x":4.22,"y":62},{"k":"B2LN","m":"p","g":"wt old","x":4,"y":45},{"k":"B2LN","m":"p","g":"wt old","x":4,"y":20},
{"k":"B2LN","m":"l","x":1,"y":13},{"k":"B2LN","m":"l","x":2,"y":62},{"k":"B2LN","m":"l","x":3,"y":11},{"k":"B2LN","m":"l","x":4,"y":64},
{"k":"B2LN","m":"s","x":1,"x2":2,"y":100,"y2":100},{"k":"B2LN","m":"s","x":1,"x2":1,"y":28,"y2":100},{"k":"B2LN","m":"s","x":2,"x2":2,"y":96,"y2":100},{"k":"B2LN","m":"s","x":3,"x2":4,"y":100,"y2":100},{"k":"B2LN","m":"s","x":3,"x2":3,"y":25,"y2":100},{"k":"B2LN","m":"s","x":4,"x2":4,"y":99,"y2":100},
{"k":"B2LN","m":"t","x":1.5,"y":104.5},{"k":"B2LN","m":"t","x":3.5,"y":104.5},
{"k":"B2LN","m":"lt","x":-1.67,"y":-15.7,"t":"Memory Phenotype"},{"k":"B2LN","m":"s","x":-1.41,"x2":-1.41,"y":-131.4,"y2":102.9},

{"k":"B2Spl","m":"p","g":"Hoxb4 young","x":1,"y":30},{"k":"B2Spl","m":"p","g":"Hoxb4 young","x":0.76,"y":27},{"k":"B2Spl","m":"p","g":"Hoxb4 young","x":1.24,"y":26},{"k":"B2Spl","m":"p","g":"Hoxb4 young","x":0.88,"y":25},{"k":"B2Spl","m":"p","g":"Hoxb4 young","x":1.12,"y":24},{"k":"B2Spl","m":"p","g":"Hoxb4 young","x":0.8,"y":22},{"k":"B2Spl","m":"p","g":"Hoxb4 young","x":1.2,"y":21},
{"k":"B2Spl","m":"p","g":"Hoxb4 old","x":2,"y":92},{"k":"B2Spl","m":"p","g":"Hoxb4 old","x":1.8,"y":80},{"k":"B2Spl","m":"p","g":"Hoxb4 old","x":2.2,"y":65},{"k":"B2Spl","m":"p","g":"Hoxb4 old","x":2,"y":50},{"k":"B2Spl","m":"p","g":"Hoxb4 old","x":1.8,"y":35},{"k":"B2Spl","m":"p","g":"Hoxb4 old","x":2.2,"y":20},{"k":"B2Spl","m":"p","g":"Hoxb4 old","x":2,"y":12},{"k":"B2Spl","m":"p","g":"Hoxb4 old","x":1.76,"y":15},
{"k":"B2Spl","m":"p","g":"wt young","x":3,"y":22},{"k":"B2Spl","m":"p","g":"wt young","x":2.76,"y":20},{"k":"B2Spl","m":"p","g":"wt young","x":3.24,"y":19},{"k":"B2Spl","m":"p","g":"wt young","x":2.88,"y":18},{"k":"B2Spl","m":"p","g":"wt young","x":3.12,"y":15},{"k":"B2Spl","m":"p","g":"wt young","x":3,"y":16},
{"k":"B2Spl","m":"p","g":"wt old","x":4,"y":95},{"k":"B2Spl","m":"p","g":"wt old","x":3.76,"y":82},{"k":"B2Spl","m":"p","g":"wt old","x":4.24,"y":80},{"k":"B2Spl","m":"p","g":"wt old","x":4,"y":75},{"k":"B2Spl","m":"p","g":"wt old","x":3.76,"y":65},{"k":"B2Spl","m":"p","g":"wt old","x":4.24,"y":62},{"k":"B2Spl","m":"p","g":"wt old","x":4,"y":40},
{"k":"B2Spl","m":"l","x":1,"y":24},{"k":"B2Spl","m":"l","x":2,"y":48},{"k":"B2Spl","m":"l","x":3,"y":19},{"k":"B2Spl","m":"l","x":4,"y":68},
{"k":"B2Spl","m":"s","x":1,"x2":2,"y":100,"y2":100},{"k":"B2Spl","m":"s","x":1,"x2":1,"y":35,"y2":100},{"k":"B2Spl","m":"s","x":2,"x2":2,"y":96,"y2":100},{"k":"B2Spl","m":"s","x":3,"x2":4,"y":100,"y2":100},{"k":"B2Spl","m":"s","x":3,"x2":3,"y":28,"y2":100},{"k":"B2Spl","m":"s","x":4,"x2":4,"y":99,"y2":100},
{"k":"B2Spl","m":"t","x":1.5,"y":104.5},{"k":"B2Spl","m":"t","x":3.5,"y":104.5},

{"k":"B2BM","m":"p","g":"Hoxb4 young","x":1,"y":55},{"k":"B2BM","m":"p","g":"Hoxb4 young","x":0.76,"y":50},{"k":"B2BM","m":"p","g":"Hoxb4 young","x":1.24,"y":48},{"k":"B2BM","m":"p","g":"Hoxb4 young","x":1,"y":42},{"k":"B2BM","m":"p","g":"Hoxb4 young","x":0.76,"y":35},{"k":"B2BM","m":"p","g":"Hoxb4 young","x":1.24,"y":30},{"k":"B2BM","m":"p","g":"Hoxb4 young","x":1,"y":18},
{"k":"B2BM","m":"p","g":"Hoxb4 old","x":2,"y":95},{"k":"B2BM","m":"p","g":"Hoxb4 old","x":1.76,"y":80},{"k":"B2BM","m":"p","g":"Hoxb4 old","x":2.24,"y":75},{"k":"B2BM","m":"p","g":"Hoxb4 old","x":2,"y":65},{"k":"B2BM","m":"p","g":"Hoxb4 old","x":2,"y":55},{"k":"B2BM","m":"p","g":"Hoxb4 old","x":2.24,"y":40},{"k":"B2BM","m":"p","g":"Hoxb4 old","x":1.76,"y":25},
{"k":"B2BM","m":"p","g":"wt young","x":3,"y":58},{"k":"B2BM","m":"p","g":"wt young","x":2.76,"y":48},{"k":"B2BM","m":"p","g":"wt young","x":3.24,"y":45},{"k":"B2BM","m":"p","g":"wt young","x":3,"y":38},{"k":"B2BM","m":"p","g":"wt young","x":2.76,"y":30},{"k":"B2BM","m":"p","g":"wt young","x":3.24,"y":22},{"k":"B2BM","m":"p","g":"wt young","x":3,"y":15},
{"k":"B2BM","m":"p","g":"wt old","x":4,"y":95},{"k":"B2BM","m":"p","g":"wt old","x":4,"y":82},{"k":"B2BM","m":"p","g":"wt old","x":3.76,"y":75},{"k":"B2BM","m":"p","g":"wt old","x":4.24,"y":75},{"k":"B2BM","m":"p","g":"wt old","x":4,"y":70},{"k":"B2BM","m":"p","g":"wt old","x":3.76,"y":65},{"k":"B2BM","m":"p","g":"wt old","x":4.24,"y":63},
{"k":"B2BM","m":"l","x":1,"y":42},{"k":"B2BM","m":"l","x":2,"y":61},{"k":"B2BM","m":"l","x":3,"y":36},{"k":"B2BM","m":"l","x":4,"y":72},
{"k":"B2BM","m":"s","x":3,"x2":4,"y":100,"y2":100},{"k":"B2BM","m":"s","x":3,"x2":3,"y":64,"y2":100},{"k":"B2BM","m":"s","x":4,"x2":4,"y":98,"y2":100},
{"k":"B2BM","m":"t","x":3.5,"y":104.5},

{"k":"B3LN","m":"p","g":"Hoxb4 young","x":1,"y":15},{"k":"B3LN","m":"p","g":"Hoxb4 young","x":0.76,"y":12},{"k":"B3LN","m":"p","g":"Hoxb4 young","x":1.24,"y":13},{"k":"B3LN","m":"p","g":"Hoxb4 young","x":0.88,"y":9},{"k":"B3LN","m":"p","g":"Hoxb4 young","x":1.12,"y":10},{"k":"B3LN","m":"p","g":"Hoxb4 young","x":1,"y":7},{"k":"B3LN","m":"p","g":"Hoxb4 young","x":1.24,"y":8},
{"k":"B3LN","m":"p","g":"Hoxb4 old","x":2,"y":62},{"k":"B3LN","m":"p","g":"Hoxb4 old","x":1.76,"y":45},{"k":"B3LN","m":"p","g":"Hoxb4 old","x":2.24,"y":40},{"k":"B3LN","m":"p","g":"Hoxb4 old","x":2,"y":35},{"k":"B3LN","m":"p","g":"Hoxb4 old","x":1.76,"y":28},{"k":"B3LN","m":"p","g":"Hoxb4 old","x":2.24,"y":22},{"k":"B3LN","m":"p","g":"Hoxb4 old","x":2,"y":18},
{"k":"B3LN","m":"p","g":"wt young","x":3,"y":14},{"k":"B3LN","m":"p","g":"wt young","x":2.76,"y":12},{"k":"B3LN","m":"p","g":"wt young","x":3.24,"y":10},{"k":"B3LN","m":"p","g":"wt young","x":3,"y":7},{"k":"B3LN","m":"p","g":"wt young","x":2.8,"y":6},{"k":"B3LN","m":"p","g":"wt young","x":3.2,"y":8},
{"k":"B3LN","m":"p","g":"wt old","x":4,"y":65},{"k":"B3LN","m":"p","g":"wt old","x":4.24,"y":55},{"k":"B3LN","m":"p","g":"wt old","x":3.76,"y":45},{"k":"B3LN","m":"p","g":"wt old","x":4,"y":38},{"k":"B3LN","m":"p","g":"wt old","x":4.24,"y":30},{"k":"B3LN","m":"p","g":"wt old","x":3.76,"y":25},{"k":"B3LN","m":"p","g":"wt old","x":4,"y":18},
{"k":"B3LN","m":"l","x":1,"y":11.5},{"k":"B3LN","m":"l","x":2,"y":34},{"k":"B3LN","m":"l","x":3,"y":10},{"k":"B3LN","m":"l","x":4,"y":38},
{"k":"B3LN","m":"s","x":1,"x2":2,"y":70,"y2":70},{"k":"B3LN","m":"s","x":1,"x2":1,"y":20,"y2":70},{"k":"B3LN","m":"s","x":2,"x2":2,"y":66,"y2":70},{"k":"B3LN","m":"s","x":3,"x2":4,"y":70,"y2":70},{"k":"B3LN","m":"s","x":3,"x2":3,"y":18,"y2":70},{"k":"B3LN","m":"s","x":4,"x2":4,"y":68,"y2":70},
{"k":"B3LN","m":"t","x":1.5,"y":75.5},{"k":"B3LN","m":"t","x":3.5,"y":75.5},

{"k":"B3Spl","m":"p","g":"Hoxb4 young","x":1,"y":18},{"k":"B3Spl","m":"p","g":"Hoxb4 young","x":0.76,"y":16},{"k":"B3Spl","m":"p","g":"Hoxb4 young","x":1.24,"y":17},{"k":"B3Spl","m":"p","g":"Hoxb4 young","x":0.88,"y":15},{"k":"B3Spl","m":"p","g":"Hoxb4 young","x":1.12,"y":16},{"k":"B3Spl","m":"p","g":"Hoxb4 young","x":1,"y":14},{"k":"B3Spl","m":"p","g":"Hoxb4 young","x":0.8,"y":17},
{"k":"B3Spl","m":"p","g":"Hoxb4 old","x":2,"y":45},{"k":"B3Spl","m":"p","g":"Hoxb4 old","x":1.76,"y":38},{"k":"B3Spl","m":"p","g":"Hoxb4 old","x":2.24,"y":35},{"k":"B3Spl","m":"p","g":"Hoxb4 old","x":2,"y":25},{"k":"B3Spl","m":"p","g":"Hoxb4 old","x":1.76,"y":18},{"k":"B3Spl","m":"p","g":"Hoxb4 old","x":2.24,"y":10},{"k":"B3Spl","m":"p","g":"Hoxb4 old","x":2,"y":5},{"k":"B3Spl","m":"p","g":"Hoxb4 old","x":1.88,"y":3},
{"k":"B3Spl","m":"p","g":"wt young","x":3,"y":18},{"k":"B3Spl","m":"p","g":"wt young","x":2.76,"y":15},{"k":"B3Spl","m":"p","g":"wt young","x":3.24,"y":14},{"k":"B3Spl","m":"p","g":"wt young","x":3,"y":13},{"k":"B3Spl","m":"p","g":"wt young","x":2.8,"y":12},{"k":"B3Spl","m":"p","g":"wt young","x":3.2,"y":14},
{"k":"B3Spl","m":"p","g":"wt old","x":4,"y":42},{"k":"B3Spl","m":"p","g":"wt old","x":3.76,"y":35},{"k":"B3Spl","m":"p","g":"wt old","x":4.24,"y":33},{"k":"B3Spl","m":"p","g":"wt old","x":4,"y":30},{"k":"B3Spl","m":"p","g":"wt old","x":3.76,"y":27},{"k":"B3Spl","m":"p","g":"wt old","x":4.24,"y":25},{"k":"B3Spl","m":"p","g":"wt old","x":4,"y":20},
{"k":"B3Spl","m":"l","x":1,"y":16},{"k":"B3Spl","m":"l","x":2,"y":23},{"k":"B3Spl","m":"l","x":3,"y":14},{"k":"B3Spl","m":"l","x":4,"y":29},
{"k":"B3Spl","m":"s","x":3,"x2":4,"y":50,"y2":50},{"k":"B3Spl","m":"s","x":3,"x2":3,"y":23,"y2":50},{"k":"B3Spl","m":"s","x":4,"x2":4,"y":45,"y2":50},
{"k":"B3Spl","m":"t","x":3.5,"y":55.5},

{"k":"B3BM","m":"p","g":"Hoxb4 young","x":1,"y":28},{"k":"B3BM","m":"p","g":"Hoxb4 young","x":0.76,"y":25},{"k":"B3BM","m":"p","g":"Hoxb4 young","x":1.24,"y":25},{"k":"B3BM","m":"p","g":"Hoxb4 young","x":0.88,"y":22},{"k":"B3BM","m":"p","g":"Hoxb4 young","x":1.12,"y":22},{"k":"B3BM","m":"p","g":"Hoxb4 young","x":1,"y":20},{"k":"B3BM","m":"p","g":"Hoxb4 young","x":0.8,"y":18},
{"k":"B3BM","m":"p","g":"Hoxb4 old","x":2,"y":35},{"k":"B3BM","m":"p","g":"Hoxb4 old","x":1.76,"y":28},{"k":"B3BM","m":"p","g":"Hoxb4 old","x":2.24,"y":25},{"k":"B3BM","m":"p","g":"Hoxb4 old","x":2,"y":20},{"k":"B3BM","m":"p","g":"Hoxb4 old","x":1.76,"y":15},{"k":"B3BM","m":"p","g":"Hoxb4 old","x":2.24,"y":12},{"k":"B3BM","m":"p","g":"Hoxb4 old","x":2,"y":8},
{"k":"B3BM","m":"p","g":"wt young","x":3,"y":32},{"k":"B3BM","m":"p","g":"wt young","x":2.76,"y":28},{"k":"B3BM","m":"p","g":"wt young","x":3.24,"y":26},{"k":"B3BM","m":"p","g":"wt young","x":3,"y":22},{"k":"B3BM","m":"p","g":"wt young","x":2.76,"y":20},{"k":"B3BM","m":"p","g":"wt young","x":3.24,"y":18},{"k":"B3BM","m":"p","g":"wt young","x":3,"y":15},
{"k":"B3BM","m":"p","g":"wt old","x":4,"y":30},{"k":"B3BM","m":"p","g":"wt old","x":3.76,"y":25},{"k":"B3BM","m":"p","g":"wt old","x":4.24,"y":22},{"k":"B3BM","m":"p","g":"wt old","x":4,"y":18},{"k":"B3BM","m":"p","g":"wt old","x":3.76,"y":12},{"k":"B3BM","m":"p","g":"wt old","x":4.24,"y":10},{"k":"B3BM","m":"p","g":"wt old","x":4,"y":8},
{"k":"B3BM","m":"l","x":1,"y":23},{"k":"B3BM","m":"l","x":2,"y":20},{"k":"B3BM","m":"l","x":3,"y":23},{"k":"B3BM","m":"l","x":4,"y":17}
]},
"vconcat":[
{"columns":3,"bounds":"flush","spacing":{"row":40,"column":46},"concat":[
{"height":100,"data":{"name":"d"},"transform":[{"filter":"datum.k=='A1LN'"}],"encoding":{"x":{"field":"x","type":"quantitative","scale":{"domain":[0.52,4.45]},"title":null},"y":{"field":"y","type":"quantitative","scale":{"domain":[0,100]},"axis":{"values":[0,25,50,75,100],"titleFontSize":13,"titleX":-48,"titleLineHeight":15},"title":["Percentage of","CD44ˡᵒCD62Lʰⁱ"]}},
"layer":[{"transform":[{"filter":"datum.m=='p'"}],"mark":{"type":"point","stroke":"#3a3a3a"},"encoding":{"fill":{"field":"g","type":"nominal","scale":{"domain":["Hoxb4 young","Hoxb4 old","wt young","wt old"]},"title":null},"shape":{"field":"g","type":"nominal","scale":{"domain":["Hoxb4 young","Hoxb4 old","wt young","wt old"]},"title":null}}},{"transform":[{"filter":"datum.m=='l'"}],"mark":{"type":"tick","orient":"horizontal","size":28,"thickness":1.2,"color":"#8c8c8c","opacity":1}},{"transform":[{"filter":"datum.m=='s'"}],"mark":"rule","encoding":{"x2":{"field":"x2"},"y2":{"field":"y2"}}},{"transform":[{"filter":"datum.m=='t'"}],"mark":{"type":"text","text":"*","fontSize":15,"baseline":"middle","dy":4}},{"transform":[{"filter":"datum.m=='lt'"}],"mark":{"type":"text","angle":270,"fontSize":16.5,"baseline":"middle"},"encoding":{"text":{"field":"t","type":"nominal"}}},{"transform":[{"filter":"datum.m=='pl'"}],"mark":{"type":"text","fontSize":16.5,"align":"left","baseline":"alphabetic"},"encoding":{"text":{"field":"t","type":"nominal"}}}]},
{"height":100,"data":{"name":"d"},"transform":[{"filter":"datum.k=='A1Spl'"}],"encoding":{"x":{"field":"x","type":"quantitative","scale":{"domain":[0.52,4.45]},"title":null},"y":{"field":"y","type":"quantitative","scale":{"domain":[0,100]},"axis":{"values":[0,25,50,75,100]},"title":null}},
"layer":[{"transform":[{"filter":"datum.m=='p'"}],"mark":{"type":"point","stroke":"#3a3a3a"},"encoding":{"fill":{"field":"g","type":"nominal","scale":{"domain":["Hoxb4 young","Hoxb4 old","wt young","wt old"]},"title":null},"shape":{"field":"g","type":"nominal","scale":{"domain":["Hoxb4 young","Hoxb4 old","wt young","wt old"]},"title":null}}},{"transform":[{"filter":"datum.m=='l'"}],"mark":{"type":"tick","orient":"horizontal","size":28,"thickness":1.2,"color":"#8c8c8c","opacity":1}},{"transform":[{"filter":"datum.m=='s'"}],"mark":"rule","encoding":{"x2":{"field":"x2"},"y2":{"field":"y2"}}},{"transform":[{"filter":"datum.m=='t'"}],"mark":{"type":"text","text":"*","fontSize":15,"baseline":"middle","dy":4}},{"transform":[{"filter":"datum.m=='pl'"}],"mark":{"type":"text","fontSize":16.5,"align":"left","baseline":"alphabetic"},"encoding":{"text":{"field":"t","type":"nominal"}}}]},
{"height":100,"data":{"name":"d"},"transform":[{"filter":"datum.k=='A1BM'"}],"encoding":{"x":{"field":"x","type":"quantitative","scale":{"domain":[0.52,4.45]},"title":null},"y":{"field":"y","type":"quantitative","scale":{"domain":[0,100]},"axis":{"values":[0,25,50,75,100]},"title":null}},
"layer":[{"transform":[{"filter":"datum.m=='p'"}],"mark":{"type":"point","stroke":"#3a3a3a"},"encoding":{"fill":{"field":"g","type":"nominal","scale":{"domain":["Hoxb4 young","Hoxb4 old","wt young","wt old"]},"title":null},"shape":{"field":"g","type":"nominal","scale":{"domain":["Hoxb4 young","Hoxb4 old","wt young","wt old"]},"title":null}}},{"transform":[{"filter":"datum.m=='l'"}],"mark":{"type":"tick","orient":"horizontal","size":28,"thickness":1.2,"color":"#8c8c8c","opacity":1}},{"transform":[{"filter":"datum.m=='s'"}],"mark":"rule","encoding":{"x2":{"field":"x2"},"y2":{"field":"y2"}}},{"transform":[{"filter":"datum.m=='t'"}],"mark":{"type":"text","text":"*","fontSize":15,"baseline":"middle","dy":4}},{"transform":[{"filter":"datum.m=='pl'"}],"mark":{"type":"text","fontSize":16.5,"align":"left","baseline":"alphabetic"},"encoding":{"text":{"field":"t","type":"nominal"}}}]},
{"height":103,"data":{"name":"d"},"transform":[{"filter":"datum.k=='A2LN'"}],"encoding":{"x":{"field":"x","type":"quantitative","scale":{"domain":[0.52,4.45]},"title":null},"y":{"field":"y","type":"quantitative","scale":{"domain":[0,100]},"axis":{"values":[0,25,50,75,100],"titleFontSize":13,"titleX":-48,"titleLineHeight":15},"title":["Percentage of","CD44ʰⁱ"]}},
"layer":[{"transform":[{"filter":"datum.m=='p'"}],"mark":{"type":"point","stroke":"#3a3a3a"},"encoding":{"fill":{"field":"g","type":"nominal","scale":{"domain":["Hoxb4 young","Hoxb4 old","wt young","wt old"]},"title":null},"shape":{"field":"g","type":"nominal","scale":{"domain":["Hoxb4 young","Hoxb4 old","wt young","wt old"]},"title":null}}},{"transform":[{"filter":"datum.m=='l'"}],"mark":{"type":"tick","orient":"horizontal","size":28,"thickness":1.2,"color":"#8c8c8c","opacity":1}},{"transform":[{"filter":"datum.m=='s'"}],"mark":"rule","encoding":{"x2":{"field":"x2"},"y2":{"field":"y2"}}},{"transform":[{"filter":"datum.m=='t'"}],"mark":{"type":"text","text":"*","fontSize":15,"baseline":"middle","dy":4}},{"transform":[{"filter":"datum.m=='lt'"}],"mark":{"type":"text","angle":270,"fontSize":16.5,"baseline":"middle"},"encoding":{"text":{"field":"t","type":"nominal"}}}]},
{"height":103,"data":{"name":"d"},"transform":[{"filter":"datum.k=='A2Spl'"}],"encoding":{"x":{"field":"x","type":"quantitative","scale":{"domain":[0.52,4.45]},"title":null},"y":{"field":"y","type":"quantitative","scale":{"domain":[0,100]},"axis":{"values":[0,25,50,75,100]},"title":null}},
"layer":[{"transform":[{"filter":"datum.m=='p'"}],"mark":{"type":"point","stroke":"#3a3a3a"},"encoding":{"fill":{"field":"g","type":"nominal","scale":{"domain":["Hoxb4 young","Hoxb4 old","wt young","wt old"]},"title":null},"shape":{"field":"g","type":"nominal","scale":{"domain":["Hoxb4 young","Hoxb4 old","wt young","wt old"]},"title":null}}},{"transform":[{"filter":"datum.m=='l'"}],"mark":{"type":"tick","orient":"horizontal","size":28,"thickness":1.2,"color":"#8c8c8c","opacity":1}},{"transform":[{"filter":"datum.m=='s'"}],"mark":"rule","encoding":{"x2":{"field":"x2"},"y2":{"field":"y2"}}},{"transform":[{"filter":"datum.m=='t'"}],"mark":{"type":"text","text":"*","fontSize":15,"baseline":"middle","dy":4}}]},
{"height":103,"data":{"name":"d"},"transform":[{"filter":"datum.k=='A2BM'"}],"encoding":{"x":{"field":"x","type":"quantitative","scale":{"domain":[0.52,4.45]},"title":null},"y":{"field":"y","type":"quantitative","scale":{"domain":[0,100]},"axis":{"values":[0,25,50,75,100]},"title":null}},
"layer":[{"transform":[{"filter":"datum.m=='p'"}],"mark":{"type":"point","stroke":"#3a3a3a"},"encoding":{"fill":{"field":"g","type":"nominal","scale":{"domain":["Hoxb4 young","Hoxb4 old","wt young","wt old"]},"title":null},"shape":{"field":"g","type":"nominal","scale":{"domain":["Hoxb4 young","Hoxb4 old","wt young","wt old"]},"title":null}}},{"transform":[{"filter":"datum.m=='l'"}],"mark":{"type":"tick","orient":"horizontal","size":28,"thickness":1.2,"color":"#8c8c8c","opacity":1}}]},
{"height":106,"data":{"name":"d"},"transform":[{"filter":"datum.k=='A3LN'"}],"encoding":{"x":{"field":"x","type":"quantitative","scale":{"domain":[0.52,4.45]},"title":null,"axis":{"labels":true,"values":[1.5,3.5],"labelExpr":"datum.value < 2 ? 'Hoxb4' : 'wt'","labelFontStyle":{"condition":{"test":"datum.value < 2","value":"italic"},"value":"normal"}}},"y":{"field":"y","type":"quantitative","scale":{"domain":[0,3]},"axis":{"values":[0,1,2,3],"titleFontSize":13,"titleX":-48,"titleLineHeight":15},"title":["Percentage of","CD44ʰⁱLy6C"]}},
"layer":[{"transform":[{"filter":"datum.m=='p'"}],"mark":{"type":"point","stroke":"#3a3a3a"},"encoding":{"fill":{"field":"g","type":"nominal","scale":{"domain":["Hoxb4 young","Hoxb4 old","wt young","wt old"]},"title":null},"shape":{"field":"g","type":"nominal","scale":{"domain":["Hoxb4 young","Hoxb4 old","wt young","wt old"]},"title":null}}},{"transform":[{"filter":"datum.m=='l'"}],"mark":{"type":"tick","orient":"horizontal","size":28,"thickness":1.2,"color":"#8c8c8c","opacity":1}},{"transform":[{"filter":"datum.m=='s'"}],"mark":"rule","encoding":{"x2":{"field":"x2"},"y2":{"field":"y2"}}},{"transform":[{"filter":"datum.m=='t'"}],"mark":{"type":"text","text":"*","fontSize":15,"baseline":"middle","dy":4}}]},
{"height":106,"data":{"name":"d"},"transform":[{"filter":"datum.k=='A3Spl'"}],"encoding":{"x":{"field":"x","type":"quantitative","scale":{"domain":[0.52,4.45]},"title":null,"axis":{"labels":true,"values":[1.5,3.5],"labelExpr":"datum.value < 2 ? 'Hoxb4' : 'wt'","labelFontStyle":{"condition":{"test":"datum.value < 2","value":"italic"},"value":"normal"}}},"y":{"field":"y","type":"quantitative","scale":{"domain":[0,3]},"axis":{"values":[0,1,2,3]},"title":null}},
"layer":[{"transform":[{"filter":"datum.m=='p'"}],"mark":{"type":"point","stroke":"#3a3a3a"},"encoding":{"fill":{"field":"g","type":"nominal","scale":{"domain":["Hoxb4 young","Hoxb4 old","wt young","wt old"]},"title":null},"shape":{"field":"g","type":"nominal","scale":{"domain":["Hoxb4 young","Hoxb4 old","wt young","wt old"]},"title":null}}},{"transform":[{"filter":"datum.m=='l'"}],"mark":{"type":"tick","orient":"horizontal","size":28,"thickness":1.2,"color":"#8c8c8c","opacity":1}}]},
{"height":106,"data":{"name":"d"},"transform":[{"filter":"datum.k=='A3BM'"}],"encoding":{"x":{"field":"x","type":"quantitative","scale":{"domain":[0.52,4.45]},"title":null,"axis":{"labels":true,"values":[1.5,3.5],"labelExpr":"datum.value < 2 ? 'Hoxb4' : 'wt'","labelFontStyle":{"condition":{"test":"datum.value < 2","value":"italic"},"value":"normal"}}},"y":{"field":"y","type":"quantitative","scale":{"domain":[0,100]},"axis":{"values":[0,25,50,75,100]},"title":null}},
"layer":[{"transform":[{"filter":"datum.m=='p'"}],"mark":{"type":"point","stroke":"#3a3a3a"},"encoding":{"fill":{"field":"g","type":"nominal","scale":{"domain":["Hoxb4 young","Hoxb4 old","wt young","wt old"]},"title":null},"shape":{"field":"g","type":"nominal","scale":{"domain":["Hoxb4 young","Hoxb4 old","wt young","wt old"]},"title":null}}},{"transform":[{"filter":"datum.m=='l'"}],"mark":{"type":"tick","orient":"horizontal","size":28,"thickness":1.2,"color":"#8c8c8c","opacity":1}},{"transform":[{"filter":"datum.m=='s'"}],"mark":"rule","encoding":{"x2":{"field":"x2"},"y2":{"field":"y2"}}},{"transform":[{"filter":"datum.m=='t'"}],"mark":{"type":"text","text":"*","fontSize":15,"baseline":"middle","dy":4}}]}
]},
{"columns":3,"bounds":"flush","spacing":{"row":34,"column":46},"concat":[
{"height":102,"data":{"name":"d"},"transform":[{"filter":"datum.k=='B1LN'"}],"encoding":{"x":{"field":"x","type":"quantitative","scale":{"domain":[0.52,4.45]},"title":null},"y":{"field":"y","type":"quantitative","scale":{"domain":[0,100]},"axis":{"values":[0,25,50,75,100],"titleFontSize":13,"titleX":-48,"titleLineHeight":15},"title":["Percentage of","CD44ˡᵒCD62Lʰⁱ"]}},
"layer":[{"transform":[{"filter":"datum.m=='p'"}],"mark":{"type":"point","stroke":"#3a3a3a"},"encoding":{"fill":{"field":"g","type":"nominal","scale":{"domain":["Hoxb4 young","Hoxb4 old","wt young","wt old"]},"title":null},"shape":{"field":"g","type":"nominal","scale":{"domain":["Hoxb4 young","Hoxb4 old","wt young","wt old"]},"title":null}}},{"transform":[{"filter":"datum.m=='l'"}],"mark":{"type":"tick","orient":"horizontal","size":28,"thickness":1.2,"color":"#8c8c8c","opacity":1}},{"transform":[{"filter":"datum.m=='s'"}],"mark":"rule","encoding":{"x2":{"field":"x2"},"y2":{"field":"y2"}}},{"transform":[{"filter":"datum.m=='t'"}],"mark":{"type":"text","text":"*","fontSize":15,"baseline":"middle","dy":4}},{"transform":[{"filter":"datum.m=='lt'"}],"mark":{"type":"text","angle":270,"fontSize":16.5,"baseline":"middle"},"encoding":{"text":{"field":"t","type":"nominal"}}},{"transform":[{"filter":"datum.m=='pl'"}],"mark":{"type":"text","fontSize":16.5,"align":"left","baseline":"alphabetic"},"encoding":{"text":{"field":"t","type":"nominal"}}}]},
{"height":102,"data":{"name":"d"},"transform":[{"filter":"datum.k=='B1Spl'"}],"encoding":{"x":{"field":"x","type":"quantitative","scale":{"domain":[0.52,4.45]},"title":null},"y":{"field":"y","type":"quantitative","scale":{"domain":[0,100]},"axis":{"values":[0,25,50,75,100]},"title":null}},
"layer":[{"transform":[{"filter":"datum.m=='p'"}],"mark":{"type":"point","stroke":"#3a3a3a"},"encoding":{"fill":{"field":"g","type":"nominal","scale":{"domain":["Hoxb4 young","Hoxb4 old","wt young","wt old"]},"title":null},"shape":{"field":"g","type":"nominal","scale":{"domain":["Hoxb4 young","Hoxb4 old","wt young","wt old"]},"title":null}}},{"transform":[{"filter":"datum.m=='l'"}],"mark":{"type":"tick","orient":"horizontal","size":28,"thickness":1.2,"color":"#8c8c8c","opacity":1}},{"transform":[{"filter":"datum.m=='s'"}],"mark":"rule","encoding":{"x2":{"field":"x2"},"y2":{"field":"y2"}}},{"transform":[{"filter":"datum.m=='t'"}],"mark":{"type":"text","text":"*","fontSize":15,"baseline":"middle","dy":4}},{"transform":[{"filter":"datum.m=='pl'"}],"mark":{"type":"text","fontSize":16.5,"align":"left","baseline":"alphabetic"},"encoding":{"text":{"field":"t","type":"nominal"}}}]},
{"height":102,"data":{"name":"d"},"transform":[{"filter":"datum.k=='B1BM'"}],"encoding":{"x":{"field":"x","type":"quantitative","scale":{"domain":[0.52,4.45]},"title":null},"y":{"field":"y","type":"quantitative","scale":{"domain":[0,100]},"axis":{"values":[0,25,50,75,100]},"title":null}},
"layer":[{"transform":[{"filter":"datum.m=='p'"}],"mark":{"type":"point","stroke":"#3a3a3a"},"encoding":{"fill":{"field":"g","type":"nominal","scale":{"domain":["Hoxb4 young","Hoxb4 old","wt young","wt old"]},"title":null},"shape":{"field":"g","type":"nominal","scale":{"domain":["Hoxb4 young","Hoxb4 old","wt young","wt old"]},"title":null}}},{"transform":[{"filter":"datum.m=='l'"}],"mark":{"type":"tick","orient":"horizontal","size":28,"thickness":1.2,"color":"#8c8c8c","opacity":1}},{"transform":[{"filter":"datum.m=='s'"}],"mark":"rule","encoding":{"x2":{"field":"x2"},"y2":{"field":"y2"}}},{"transform":[{"filter":"datum.m=='t'"}],"mark":{"type":"text","text":"*","fontSize":15,"baseline":"middle","dy":4}},{"transform":[{"filter":"datum.m=='pl'"}],"mark":{"type":"text","fontSize":16.5,"align":"left","baseline":"alphabetic"},"encoding":{"text":{"field":"t","type":"nominal"}}}]},
{"height":105,"data":{"name":"d"},"transform":[{"filter":"datum.k=='B2LN'"}],"encoding":{"x":{"field":"x","type":"quantitative","scale":{"domain":[0.52,4.45]},"title":null},"y":{"field":"y","type":"quantitative","scale":{"domain":[0,100]},"axis":{"values":[0,25,50,75,100],"titleFontSize":13,"titleX":-48,"titleLineHeight":15},"title":["Percentage of","CD44ʰⁱ"]}},
"layer":[{"transform":[{"filter":"datum.m=='p'"}],"mark":{"type":"point","stroke":"#3a3a3a"},"encoding":{"fill":{"field":"g","type":"nominal","scale":{"domain":["Hoxb4 young","Hoxb4 old","wt young","wt old"]},"title":null},"shape":{"field":"g","type":"nominal","scale":{"domain":["Hoxb4 young","Hoxb4 old","wt young","wt old"]},"title":null}}},{"transform":[{"filter":"datum.m=='l'"}],"mark":{"type":"tick","orient":"horizontal","size":28,"thickness":1.2,"color":"#8c8c8c","opacity":1}},{"transform":[{"filter":"datum.m=='s'"}],"mark":"rule","encoding":{"x2":{"field":"x2"},"y2":{"field":"y2"}}},{"transform":[{"filter":"datum.m=='t'"}],"mark":{"type":"text","text":"*","fontSize":15,"baseline":"middle","dy":4}},{"transform":[{"filter":"datum.m=='lt'"}],"mark":{"type":"text","angle":270,"fontSize":16.5,"baseline":"middle"},"encoding":{"text":{"field":"t","type":"nominal"}}}]},
{"height":105,"data":{"name":"d"},"transform":[{"filter":"datum.k=='B2Spl'"}],"encoding":{"x":{"field":"x","type":"quantitative","scale":{"domain":[0.52,4.45]},"title":null},"y":{"field":"y","type":"quantitative","scale":{"domain":[0,100]},"axis":{"values":[0,25,50,75,100]},"title":null}},
"layer":[{"transform":[{"filter":"datum.m=='p'"}],"mark":{"type":"point","stroke":"#3a3a3a"},"encoding":{"fill":{"field":"g","type":"nominal","scale":{"domain":["Hoxb4 young","Hoxb4 old","wt young","wt old"]},"title":null},"shape":{"field":"g","type":"nominal","scale":{"domain":["Hoxb4 young","Hoxb4 old","wt young","wt old"]},"title":null}}},{"transform":[{"filter":"datum.m=='l'"}],"mark":{"type":"tick","orient":"horizontal","size":28,"thickness":1.2,"color":"#8c8c8c","opacity":1}},{"transform":[{"filter":"datum.m=='s'"}],"mark":"rule","encoding":{"x2":{"field":"x2"},"y2":{"field":"y2"}}},{"transform":[{"filter":"datum.m=='t'"}],"mark":{"type":"text","text":"*","fontSize":15,"baseline":"middle","dy":4}}]},
{"height":105,"data":{"name":"d"},"transform":[{"filter":"datum.k=='B2BM'"}],"encoding":{"x":{"field":"x","type":"quantitative","scale":{"domain":[0.52,4.45]},"title":null},"y":{"field":"y","type":"quantitative","scale":{"domain":[0,100]},"axis":{"values":[0,25,50,75,100]},"title":null}},
"layer":[{"transform":[{"filter":"datum.m=='p'"}],"mark":{"type":"point","stroke":"#3a3a3a"},"encoding":{"fill":{"field":"g","type":"nominal","scale":{"domain":["Hoxb4 young","Hoxb4 old","wt young","wt old"]},"title":null},"shape":{"field":"g","type":"nominal","scale":{"domain":["Hoxb4 young","Hoxb4 old","wt young","wt old"]},"title":null}}},{"transform":[{"filter":"datum.m=='l'"}],"mark":{"type":"tick","orient":"horizontal","size":28,"thickness":1.2,"color":"#8c8c8c","opacity":1}},{"transform":[{"filter":"datum.m=='s'"}],"mark":"rule","encoding":{"x2":{"field":"x2"},"y2":{"field":"y2"}}},{"transform":[{"filter":"datum.m=='t'"}],"mark":{"type":"text","text":"*","fontSize":15,"baseline":"middle","dy":4}}]},
{"height":104,"data":{"name":"d"},"transform":[{"filter":"datum.k=='B3LN'"}],"encoding":{"x":{"field":"x","type":"quantitative","scale":{"domain":[0.52,4.45]},"title":null,"axis":{"labels":true,"values":[1.5,3.5],"labelExpr":"datum.value < 2 ? 'Hoxb4' : 'wt'","labelFontStyle":{"condition":{"test":"datum.value < 2","value":"italic"},"value":"normal"}}},"y":{"field":"y","type":"quantitative","scale":{"domain":[0,100]},"axis":{"values":[0,25,50,75,100],"titleFontSize":13,"titleX":-48,"titleLineHeight":15},"title":["Percentage of","CD44ʰⁱLy6C"]}},
"layer":[{"transform":[{"filter":"datum.m=='p'"}],"mark":{"type":"point","stroke":"#3a3a3a"},"encoding":{"fill":{"field":"g","type":"nominal","scale":{"domain":["Hoxb4 young","Hoxb4 old","wt young","wt old"]},"title":null},"shape":{"field":"g","type":"nominal","scale":{"domain":["Hoxb4 young","Hoxb4 old","wt young","wt old"]},"title":null}}},{"transform":[{"filter":"datum.m=='l'"}],"mark":{"type":"tick","orient":"horizontal","size":28,"thickness":1.2,"color":"#8c8c8c","opacity":1}},{"transform":[{"filter":"datum.m=='s'"}],"mark":"rule","encoding":{"x2":{"field":"x2"},"y2":{"field":"y2"}}},{"transform":[{"filter":"datum.m=='t'"}],"mark":{"type":"text","text":"*","fontSize":15,"baseline":"middle","dy":4}}]},
{"height":104,"data":{"name":"d"},"transform":[{"filter":"datum.k=='B3Spl'"}],"encoding":{"x":{"field":"x","type":"quantitative","scale":{"domain":[0.52,4.45]},"title":null,"axis":{"labels":true,"values":[1.5,3.5],"labelExpr":"datum.value < 2 ? 'Hoxb4' : 'wt'","labelFontStyle":{"condition":{"test":"datum.value < 2","value":"italic"},"value":"normal"}}},"y":{"field":"y","type":"quantitative","scale":{"domain":[0,100]},"axis":{"values":[0,25,50,75,100]},"title":null}},
"layer":[{"transform":[{"filter":"datum.m=='p'"}],"mark":{"type":"point","stroke":"#3a3a3a"},"encoding":{"fill":{"field":"g","type":"nominal","scale":{"domain":["Hoxb4 young","Hoxb4 old","wt young","wt old"]},"title":null},"shape":{"field":"g","type":"nominal","scale":{"domain":["Hoxb4 young","Hoxb4 old","wt young","wt old"]},"title":null}}},{"transform":[{"filter":"datum.m=='l'"}],"mark":{"type":"tick","orient":"horizontal","size":28,"thickness":1.2,"color":"#8c8c8c","opacity":1}},{"transform":[{"filter":"datum.m=='s'"}],"mark":"rule","encoding":{"x2":{"field":"x2"},"y2":{"field":"y2"}}},{"transform":[{"filter":"datum.m=='t'"}],"mark":{"type":"text","text":"*","fontSize":15,"baseline":"middle","dy":4}}]},
{"height":104,"data":{"name":"d"},"transform":[{"filter":"datum.k=='B3BM'"}],"encoding":{"x":{"field":"x","type":"quantitative","scale":{"domain":[0.52,4.45]},"title":null,"axis":{"labels":true,"values":[1.5,3.5],"labelExpr":"datum.value < 2 ? 'Hoxb4' : 'wt'","labelFontStyle":{"condition":{"test":"datum.value < 2","value":"italic"},"value":"normal"}}},"y":{"field":"y","type":"quantitative","scale":{"domain":[0,100]},"axis":{"values":[0,25,50,75,100]},"title":null}},
"layer":[{"transform":[{"filter":"datum.m=='p'"}],"mark":{"type":"point","stroke":"#3a3a3a"},"encoding":{"fill":{"field":"g","type":"nominal","scale":{"domain":["Hoxb4 young","Hoxb4 old","wt young","wt old"]},"title":null},"shape":{"field":"g","type":"nominal","scale":{"domain":["Hoxb4 young","Hoxb4 old","wt young","wt old"]},"title":null}}},{"transform":[{"filter":"datum.m=='l'"}],"mark":{"type":"tick","orient":"horizontal","size":28,"thickness":1.2,"color":"#8c8c8c","opacity":1}}]}
]}
],
"config":{
"font":"Liberation Sans",
"view":{"stroke":null,"continuousWidth":149},
"range":{"category":["#a4503f","#a4503f","#c6cfe7","#c6cfe7"],"symbol":["square","triangle-up","square","triangle-up"]},
"point":{"filled":true,"size":40,"stroke":"#3a3a3a","strokeWidth":0.8,"opacity":1},
"rule":{"color":"#222222","strokeWidth":1.1},
"text":{"fontWeight":"bold","color":"#111111"},
"axis":{"grid":false,"domainColor":"#222222","domainWidth":1.2,"tickColor":"#222222","tickWidth":1.2,"labelColor":"#111111","labelFontWeight":"bold","labelFontSize":12,"titleColor":"#111111","titleFontWeight":"bold"},
"axisX":{"ticks":false,"tickSize":0,"labels":false,"labelPadding":7},
"axisY":{"tickSize":4,"labelPadding":1.5},
"legend":{"orient":"none","legendX":497,"legendY":-40,"labelFontSize":12,"labelFontWeight":"bold","labelColor":"#111111","labelLimit":300,"symbolSize":140,"symbolStrokeColor":"#333333","symbolStrokeWidth":0.9,"rowPadding":2,"labelOffset":6,"padding":0,"symbolOpacity":1}
}
}
